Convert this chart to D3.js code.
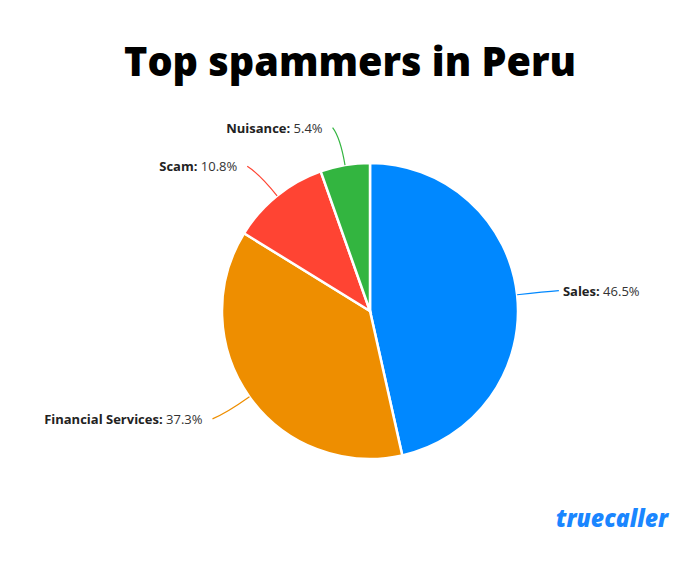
<!DOCTYPE html>
<html><head><meta charset="utf-8">
<script src="https://cdn.jsdelivr.net/npm/d3@7"></script>
<style>body{margin:0;background:#fff}svg{display:block}</style>
</head><body>
<script>
const categories = ["Sales", "Financial Services", "Scam", "Nuisance"];
const values = [46.5, 37.3, 10.8, 5.4];
const colors = ["#0088ff", "#ee8e00", "#ff4433", "#33b540"];
const title = "Top spammers in Peru";

const W = 700, H = 570, cx = 370, cy = 311, R = 148;
const svg = d3.select("body").append("svg").attr("width", W).attr("height", H);
svg.append("rect").attr("width", W).attr("height", H).attr("fill", "#fff");

svg.append("text").attr("x", 350).attr("y", 76).attr("text-anchor", "middle")
  .attr("font-family", "'Open Sans', sans-serif").attr("font-weight", 800)
  .attr("font-size", 40).attr("fill", "#000")
  .attr("textLength", 452).attr("lengthAdjust", "spacingAndGlyphs").text(title);

const data = categories.map((c, i) => ({cat: c, val: values[i], color: colors[i]}));
const pie = d3.pie().value(d => d.val).sort(null);
const arcs = pie(data);
const arc = d3.arc().innerRadius(0).outerRadius(R);
const g = svg.append("g").attr("transform", `translate(${cx},${cy})`);
g.selectAll("path.slice").data(arcs).join("path").attr("class", "slice")
  .attr("d", arc).attr("fill", d => d.data.color)
  .attr("stroke", "#fff").attr("stroke-width", 2.5);

const polar = (a, r) => [Math.sin(a) * r, -Math.cos(a) * r];
arcs.forEach(d => {
  const mid = (d.startAngle + d.endAngle) / 2;
  const right = Math.sin(mid) > 0;
  const p0 = polar(mid, R);
  const c1 = polar(mid, R + 28);
  const e = polar(mid, R + 38);
  e[0] += right ? 4 : -6;
  g.append("path").attr("d", `M${p0[0]},${p0[1]}Q${c1[0]},${c1[1]} ${e[0]},${e[1]}`)
    .attr("fill", "none").attr("stroke", d.data.color).attr("stroke-width", 1.2);
  const t = g.append("text")
    .attr("x", right ? e[0] + 4 : e[0] - 10).attr("y", e[1] + 2)
    .attr("dominant-baseline", "middle")
    .attr("text-anchor", right ? "start" : "end")
    .attr("font-family", "'Open Sans', sans-serif").attr("font-size", 13).attr("fill", "#222");
  t.append("tspan").attr("font-weight", 700).text(d.data.cat + ":");
  t.append("tspan").attr("fill", "#333").text(" " + d.data.val.toFixed(1) + "%");
});

svg.append("text").attr("x", 556).attr("y", 527)
  .attr("font-family", "'Open Sans', sans-serif").attr("font-weight", 800)
  .attr("font-style", "italic").attr("font-size", 25).attr("fill", "#1a86ff")
  .attr("textLength", 112).attr("lengthAdjust", "spacingAndGlyphs").text("truecaller");
</script>
</body></html>
